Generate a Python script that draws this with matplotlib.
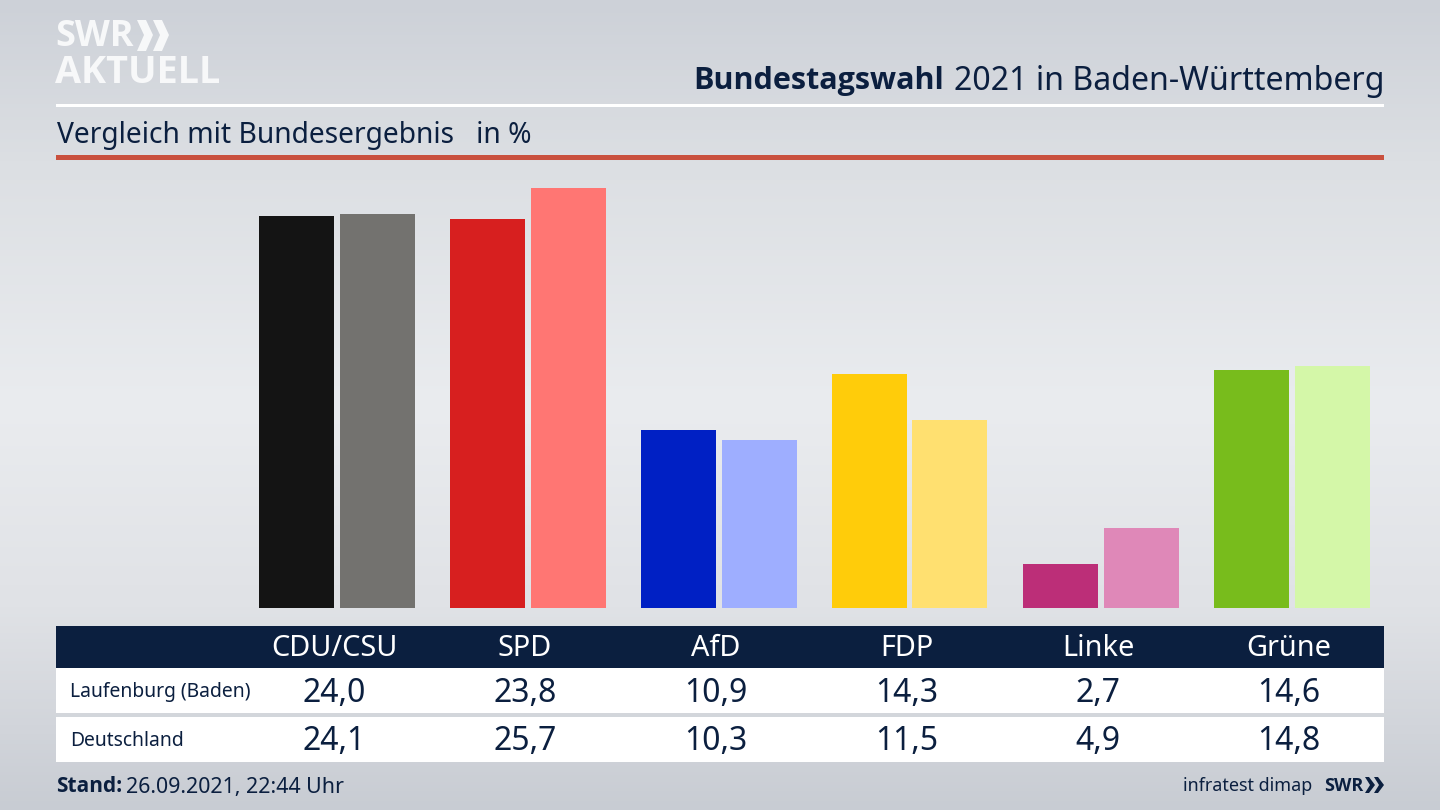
import numpy as np
import matplotlib
matplotlib.use('Agg')
import matplotlib.pyplot as plt
from matplotlib.colors import LinearSegmentedColormap
from matplotlib.patches import Rectangle, Polygon

plt.rcParams['font.family'] = ['Noto Sans', 'DejaVu Sans']
FETT = ['Open Sans', 'DejaVu Sans']

# daten
parteien = ['CDU/CSU', 'SPD', 'AfD', 'FDP', 'Linke', 'Grüne']
laufenburg = [24.0, 23.8, 10.9, 14.3, 2.7, 14.6]
deutschland = [24.1, 25.7, 10.3, 11.5, 4.9, 14.8]
farben_ort = ['#141414', '#d71f1f', '#0020c4', '#ffcc0a', '#bc2e78', '#78bc1c']
farben_bund = ['#73726f', '#ff7673', '#9eaeff', '#ffe070', '#df88b8', '#d4f7a8']
zeilen = ['Laufenburg (Baden)', 'Deutschland']

DUNKEL = '#0b1f3f'
W, H = 1440, 810

fig = plt.figure(figsize=(14.4, 8.1), dpi=100)

# hintergrund und alles in pixelkoordinaten
bg = fig.add_axes([0, 0, 1, 1])
bg.set_xlim(0, W)
bg.set_ylim(H, 0)
bg.axis('off')
cmap = LinearSegmentedColormap.from_list('bg', [(0, '#cdd1d8'), (0.2, '#dcdfe3'), (0.5, '#eaecef'),
                                               (0.75, '#e0e2e6'), (1, '#c8ccd3')])
bg.imshow(np.linspace(0, 1, 256).reshape(-1, 1), cmap=cmap, extent=[0, W, H, 0], aspect='auto', zorder=0)

# logo oben links
bg.text(55, 37, 'SWR', color='#f7f8f9', fontsize=26, family=FETT, fontweight='bold', va='center', ha='left', zorder=3)
bg.text(55, 73, 'AKTUELL', color='#f7f8f9', fontsize=27.2, family=FETT, fontweight='bold', va='center', ha='left', zorder=3)
for dx in (0, 16):
    bg.add_patch(Polygon([(137 + dx, 20), (146 + dx, 20), (153 + dx, 35), (146 + dx, 51), (137 + dx, 51), (144 + dx, 35)],
                         color='#f7f8f9', lw=0, zorder=3))

# titel
bg.text(693, 81, 'Bundestagswahl', color=DUNKEL, fontsize=22, family=FETT, fontweight='bold', va='center', ha='left', zorder=3)
bg.text(1384, 81, '2021 in Baden-Württemberg', color=DUNKEL, fontsize=23.1, va='center', ha='right', zorder=3)
bg.add_patch(Rectangle((56, 104), 1328, 3, color='white', lw=0, zorder=2))
bg.text(57, 135, 'Vergleich mit Bundesergebnis   in %', color=DUNKEL, fontsize=20.3, va='center', ha='left', zorder=3)
bg.add_patch(Rectangle((56, 155), 1328, 5, color='#c9503e', lw=0, zorder=2))

# balken
base = 608
ax = fig.add_axes([0, (H - base) / H, 1, 460 / H])
ax.patch.set_alpha(0)
# index 0 liegt bei 336.5 px, schritt 191 px
ax.set_xlim(-336.5 / 191, (W - 336.5) / 191)
ax.set_ylim(0, 460 / 16.33)
ax.axis('off')
x = np.arange(len(parteien))
bw = 75 / 191
off = 40.5 / 191
ax.bar(x - off, laufenburg, bw, color=farben_ort)
ax.bar(x + off, deutschland, bw, color=farben_bund)

# tabelle
bg.add_patch(Rectangle((56, 626), 1328, 42, color=DUNKEL, lw=0, zorder=2))
bg.add_patch(Rectangle((56, 668), 1328, 45, color='white', lw=0, zorder=2))
bg.add_patch(Rectangle((56, 717), 1328, 45, color='white', lw=0, zorder=2))
xt = 334 + 191 * x
for i, p in enumerate(parteien):
    bg.text(xt[i], 648, p, color='white', fontsize=20.8, va='center', ha='center', zorder=3)
    bg.text(xt[i], 693, f'{laufenburg[i]:.1f}'.replace('.', ','), color=DUNKEL, fontsize=23, va='center', ha='center', zorder=3)
    bg.text(xt[i], 742, f'{deutschland[i]:.1f}'.replace('.', ','), color=DUNKEL, fontsize=23, va='center', ha='center', zorder=3)
bg.text(70, 692, zeilen[0], color=DUNKEL, fontsize=13.9, va='center', ha='left', zorder=3)
bg.text(70, 741, zeilen[1], color=DUNKEL, fontsize=13.9, va='center', ha='left', zorder=3)

# fusszeile
bg.text(56, 787, 'Stand:', color=DUNKEL, fontsize=15, family=FETT, fontweight='bold', va='center', ha='left', zorder=3)
bg.text(126, 787, '26.09.2021, 22:44 Uhr', color=DUNKEL, fontsize=15.4, va='center', ha='left', zorder=3)
bg.text(1312, 786, 'infratest dimap', color=DUNKEL, fontsize=12.9, va='center', ha='right', zorder=3)
bg.text(1324, 786, 'SWR', color=DUNKEL, fontsize=13, family=FETT, fontweight='bold', va='center', ha='left', zorder=3)
for dx in (0, 9):
    bg.add_patch(Polygon([(1365 + dx, 777), (1369 + dx, 777), (1375 + dx, 785), (1369 + dx, 793), (1365 + dx, 793), (1370 + dx, 785)],
                         color=DUNKEL, lw=0, zorder=3))

fig.savefig('out.png', dpi=100)
